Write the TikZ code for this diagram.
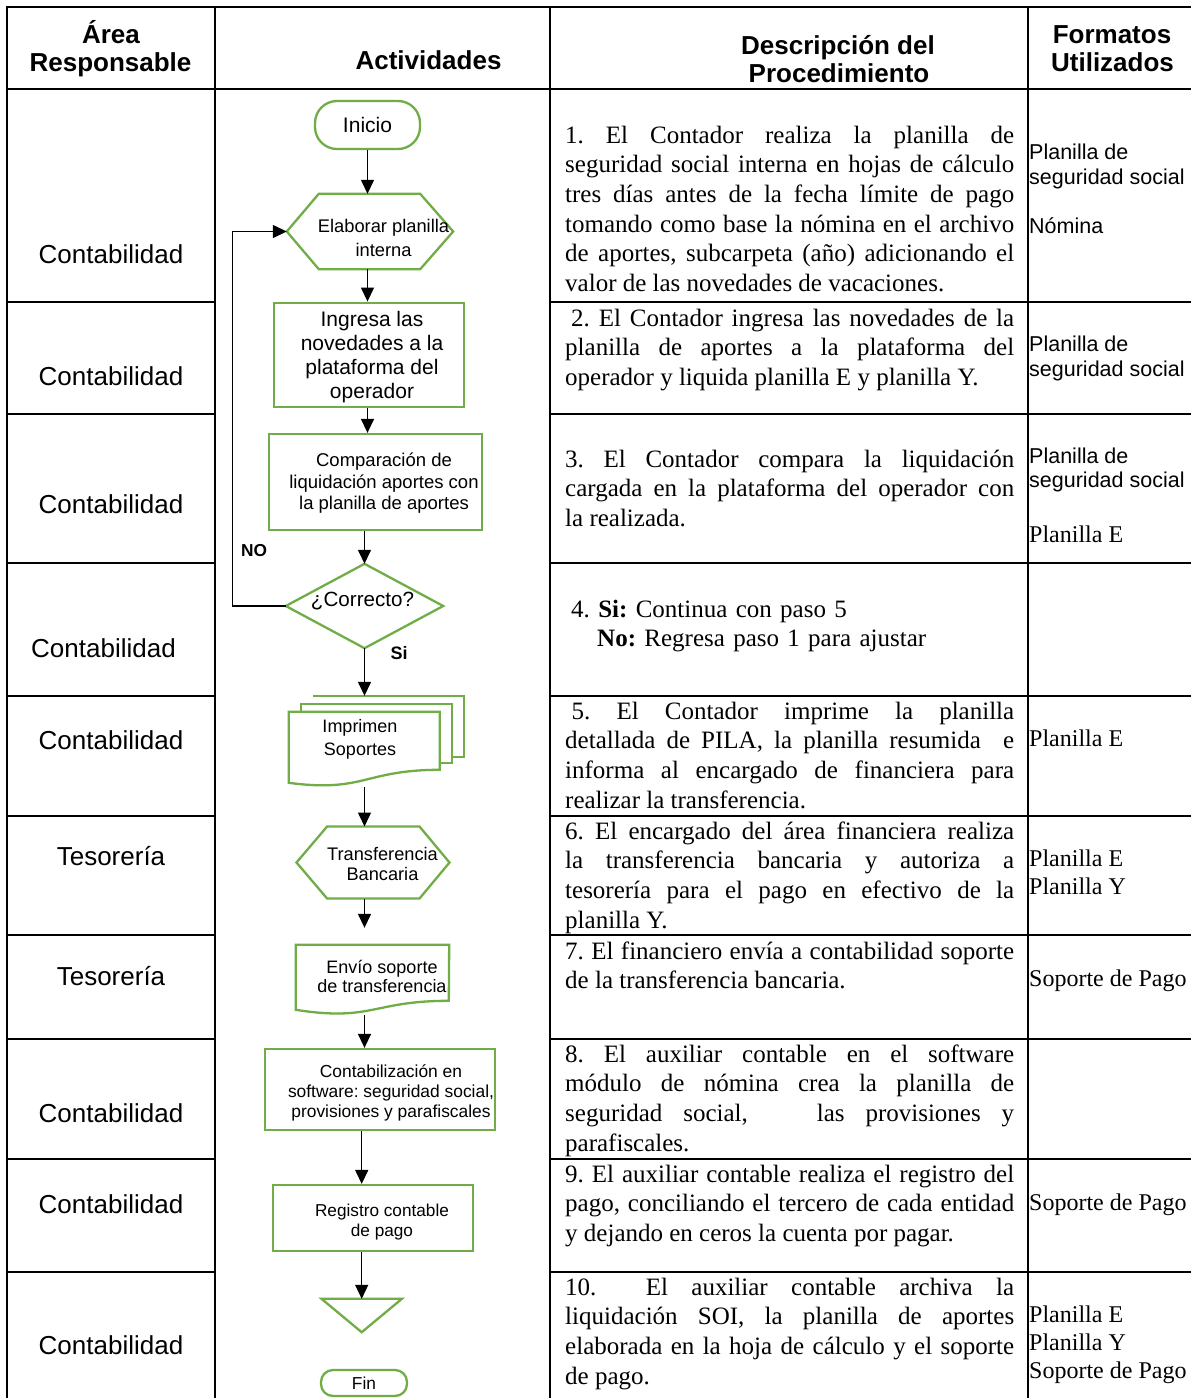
\documentclass[tikz,border=0pt]{standalone}
\usepackage{fontspec}
\setmainfont{Liberation Serif}
\newfontfamily\arialfont{Liberation Sans}
\usetikzlibrary{arrows.meta}
\definecolor{flowgreen}{RGB}{112,173,71}
\newcommand{\setfs}[2]{\fontsize{#1}{#2}\selectfont}
\hyphenpenalty=10000
\exhyphenpenalty=10000
\tolerance=9999
\hbadness=10000
\frenchspacing
\begin{document}
\begin{tikzpicture}[x=1pt,y=-1pt,
  tabline/.style={line width=2.2pt, black, line cap=rect},
  arr/.style={line width=1.4pt, -{Triangle[width=13pt,length=14pt]}},
  shp/.style={draw=flowgreen, line width=2.3pt},
  proc/.style={shp, rectangle, inner sep=0},
  bbox/.style={rectangle, inner sep=0, draw=none},
  area/.style={font=\arialfont\setfs{26}{30}, anchor=base, inner sep=0},
  hdr/.style={font=\arialfont\bfseries\setfs{26}{30}, anchor=base, inner sep=0},
  desc/.style={font=\setfs{25}{29.7}\frenchspacing, text width=449pt, align=justify, inner sep=0, anchor=north west},
  fmtsans/.style={font=\arialfont\setfs{21.5}{25}, anchor=base west, inner sep=0},
  fmtserif/.style={font=\setfs{24}{28}, anchor=base west, inner sep=0},
  ftext/.style={align=center, inner sep=0, anchor=north}]

\useasboundingbox (0,0) rectangle (1191,1398);
\fill[white] (0,0) rectangle (1191,1398);

% ---------- table grid ----------
\draw[tabline] (7,7) -- (1191,7);
\draw[tabline] (7,89) -- (1191,89);
\foreach \xx in {7,215,550,1028} \draw[tabline] (\xx,7) -- (\xx,1398);
\foreach \yy in {302,414,563,696,816,935,1039,1159,1272} {
  \draw[tabline] (7,\yy) -- (215,\yy);
  \draw[tabline] (550,\yy) -- (1191,\yy);
}

% ---------- headers ----------
\node[hdr] (h-area1) at (111,43) {Área};
\node[hdr] (h-area2) at (110.5,71.5) {Responsable};
\node[hdr] (h-act) at (428.5,69) {Actividades};
\node[hdr] (h-desc1) at (838,54) {Descripción del};
\node[hdr] (h-desc2) at (839,82.5) {Procedimiento};
\node[hdr] (h-fmt1) at (1112,43) {Formatos};
\node[hdr] (h-fmt2) at (1112.5,71.5) {Utilizados};

% ---------- responsible areas ----------
\node[area] (a1) at (111,263.4) {Contabilidad};
\node[area] (a2) at (111,385.4) {Contabilidad};
\node[area] (a3) at (111,513.4) {Contabilidad};
\node[area] (a4) at (103.5,657.4) {Contabilidad};
\node[area] (a5) at (111,749.4) {Contabilidad};
\node[area] (a6) at (111,865.4) {Tesorería};
\node[area] (a7) at (111,985.4) {Tesorería};
\node[area] (a8) at (111,1122.4) {Contabilidad};
\node[area] (a9) at (111,1213.4) {Contabilidad};
\node[area] (a10) at (111,1354.4) {Contabilidad};

% ---------- procedure descriptions ----------
\node[desc] (d1) at (565,122.2) {\strut 1. El Contador realiza la planilla de\linebreak seguridad social interna en hojas de cálculo\linebreak tres días antes de la fecha límite de pago\linebreak tomando como base la nómina en el archivo\linebreak de aportes, subcarpeta (año) adicionando el\linebreak valor de las novedades de vacaciones.};
\node[desc] (d2) at (565,305.2) {\strut\hspace*{6pt}2. El Contador ingresa las novedades de la\linebreak planilla de aportes a la plataforma del\linebreak operador y liquida planilla E y planilla Y.};
\node[desc] (d3) at (565,446.2) {\strut 3. El Contador compara la liquidación\linebreak cargada en la plataforma del operador con\linebreak la realizada.};
\node[desc, align=left] (d4) at (565,596.2) {\strut\hspace*{6pt}4. \textbf{Si:} Continua con paso 5\\\hspace*{32pt}\textbf{No:} Regresa paso 1 para ajustar};
\node[desc] (d5) at (565,698.2) {\strut\hspace*{6.5pt}5. El Contador imprime la planilla\linebreak detallada de PILA, la planilla resumida\ \ e\linebreak informa al encargado de financiera para\linebreak realizar la transferencia.};
\node[desc] (d6) at (565,818.2) {\strut 6. El encargado del área financiera realiza\linebreak la transferencia bancaria y autoriza a\linebreak tesorería para el pago en efectivo de la\linebreak planilla Y.};
\node[desc] (d7) at (565,938.2) {\strut 7. El financiero envía a contabilidad soporte\linebreak de la transferencia bancaria.};
\node[desc] (d8) at (565,1041.2) {\strut 8. El auxiliar contable en el software\linebreak módulo de nómina crea la planilla de\linebreak seguridad social,\hspace{48pt} las provisiones y\linebreak parafiscales.};
\node[desc] (d9) at (565,1161.2) {\strut 9. El auxiliar contable realiza el registro del\linebreak pago, conciliando el tercero de cada entidad\linebreak y dejando en ceros la cuenta por pagar.};
\node[desc] (d10) at (565,1274.2) {\strut 10.\hspace{26pt} El auxiliar contable archiva la\linebreak liquidación SOI, la planilla de aportes\linebreak elaborada en la hoja de cálculo y el soporte\linebreak de pago.};

% ---------- formats used ----------
\node[fmtsans] (f1a) at (1029,159.7) {Planilla de};
\node[fmtsans] (f1b) at (1029,184.7) {seguridad social};
\node[fmtsans] (f1c) at (1029,233.7) {Nómina};
\node[fmtsans] (f2a) at (1029,351.7) {Planilla de};
\node[fmtsans] (f2b) at (1029,376.7) {seguridad social};
\node[fmtsans] (f3a) at (1029,463.7) {Planilla de};
\node[fmtsans] (f3b) at (1029,487.7) {seguridad social};
\node[fmtserif] (f3c) at (1029,542.9) {Planilla E};
\node[fmtserif] (f5a) at (1029,746.9) {Planilla E};
\node[fmtserif] (f6a) at (1029,866.9) {Planilla E};
\node[fmtserif] (f6b) at (1029,894.9) {Planilla Y};
\node[fmtserif] (f7a) at (1029,986.9) {Soporte de Pago};
\node[fmtserif] (f9a) at (1029,1210.9) {Soporte de Pago};
\node[fmtserif] (f10a) at (1029,1322.9) {Planilla E};
\node[fmtserif] (f10b) at (1029,1350.9) {Planilla Y};
\node[fmtserif] (f10c) at (1029,1378.9) {Soporte de Pago};

% ---------- flowchart shapes ----------
\node[shp, rounded corners=22pt, minimum width=105pt, minimum height=48pt, inner sep=0,
      font=\arialfont\setfs{21}{24}] (inicio) at (367.5,125) {Inicio};

\node[bbox, minimum width=166pt, minimum height=75pt] (elab) at (370,231.5) {};
\draw[shp] (elab.west) -- ([xshift=32pt]elab.north west) -- ([xshift=-33pt]elab.north east)
  -- (elab.east) -- ([xshift=-33pt]elab.south east) -- ([xshift=32pt]elab.south west) -- cycle;

\node[proc, minimum width=190pt, minimum height=104pt] (ingresa) at (369,354.7) {};
\node[proc, minimum width=212.7pt, minimum height=96pt] (comp) at (375.4,482) {};

\node[bbox, minimum width=157pt, minimum height=84pt] (dec) at (364.5,606) {};
\draw[shp] (dec.west) -- (dec.north) -- (dec.east) -- (dec.south) -- cycle;

% stacked documents
\node[bbox, minimum width=175pt, minimum height=91pt] (imp) at (376.5,741.5) {};
\draw[shp] ([shift={(24,0)}]imp.north west) -- ([shift={(175,0)}]imp.north west)
  -- ([shift={(175,61)}]imp.north west) -- ([shift={(163,61)}]imp.north west);
\draw[shp] ([shift={(12,16)}]imp.north west) -- ([shift={(12,8)}]imp.north west)
  -- ([shift={(163,8)}]imp.north west) -- ([shift={(163,67)}]imp.north west)
  -- ([shift={(151,67)}]imp.north west);
\draw[shp, fill=white] ([shift={(0,16)}]imp.north west) -- ([shift={(151,16)}]imp.north west)
  -- ([shift={(151,74)}]imp.north west)
  .. controls ([shift={(75.5,74)}]imp.north west) and ([shift={(75.5,97)}]imp.north west)
  .. ([shift={(0,87)}]imp.north west) -- cycle;

\node[bbox, minimum width=152.6pt, minimum height=71.6pt] (trans) at (373,862.5) {};
\draw[shp] (trans.west) -- ([xshift=30.6pt]trans.north west) -- ([xshift=-30pt]trans.north east)
  -- (trans.east) -- ([xshift=-30pt]trans.south east) -- ([xshift=30.6pt]trans.south west) -- cycle;

\node[bbox, minimum width=153pt, minimum height=70pt] (envio) at (372.5,980) {};
\draw[shp] (envio.north west) -- (envio.north east)
  -- ([shift={(153,56)}]envio.north west)
  .. controls ([shift={(76.5,56)}]envio.north west) and ([shift={(76.5,77)}]envio.north west)
  .. ([shift={(0,65)}]envio.north west) -- cycle;

\node[proc, minimum width=229.4pt, minimum height=81pt] (cont) at (380,1089.5) {};
\node[proc, minimum width=200.6pt, minimum height=65.7pt] (reg) at (373,1217.9) {};

\node[bbox, minimum width=80pt, minimum height=33pt] (tri) at (361.7,1315.5) {};
\draw[shp] (tri.north west) -- (tri.north east) -- (tri.south) -- cycle;

\node[shp, rounded corners=12pt, minimum width=86pt, minimum height=26pt, inner sep=0,
      font=\arialfont\setfs{17.3}{20}] (fin) at (364,1383) {Fin};

% ---------- flowchart texts ----------
\node[ftext, font=\arialfont\setfs{18.3}{24}] (elab-t) at (383.5,215.8) {\strut Elaborar planilla\\interna};
\node[ftext, font=\arialfont\setfs{21}{24}] (ingresa-t) at (372,309.8) {\strut Ingresa las\\novedades a la\\plataforma del\\operador};
\node[ftext, font=\arialfont\setfs{18.5}{21.5}] (comp-t) at (384,451.6) {\strut Comparación de\\liquidación aportes con\\la planilla de aportes};
\node[anchor=base, inner sep=0, font=\arialfont\setfs{20.6}{24}] (dec-t) at (362.5,606.4) {¿Correcto?};
\node[ftext, font=\arialfont\setfs{18}{23}] (imp-t) at (360,716.4) {\strut Imprimen\\Soportes};
\node[ftext, font=\arialfont\setfs{18.2}{19.5}] (trans-t) at (382.5,847) {\strut Transferencia\\Bancaria};
\node[ftext, font=\arialfont\setfs{18}{19.5}] (envio-t) at (382,959.5) {\strut Envío soporte\\de transferencia};
\node[ftext, font=\arialfont\setfs{17.4}{20}] (cont-t) at (391,1063) {\strut Contabilización en\\software: seguridad social,\\provisiones y parafiscales};
\node[ftext, font=\arialfont\setfs{17.2}{20}] (reg-t) at (382,1202.2) {\strut Registro contable\\de pago};

\node[anchor=base, inner sep=0, font=\arialfont\bfseries\setfs{17.3}{20}] (lbl-no) at (254,556.2) {NO};
\node[anchor=base, inner sep=0, font=\arialfont\bfseries\setfs{18}{20}] (lbl-si) at (399,659.5) {Si};

% ---------- connectors ----------
\draw[arr] (inicio.south) -- (inicio.south |- elab.north);
\draw[arr] (elab.south -| inicio) -- (ingresa.north -| inicio);
\draw[arr] (ingresa.south -| inicio) -- (comp.north -| inicio);
\draw[arr] (comp.south -| dec) -- (dec.north);
\draw[arr] (dec.south) -- (dec.south |- imp.north);
\draw[arr] (imp.south -| dec) -- (trans.north -| dec);
\draw[arr, shorten >=17pt] (trans.south -| dec) -- (envio.north -| dec);
\draw[arr] (envio.south -| dec) -- (cont.north -| dec);
\draw[arr] (cont.south -| tri) -- (reg.north -| tri);
\draw[arr] (reg.south -| tri) -- (tri.north);
\coordinate (nobend) at (232.3,606);
\draw[arr] (dec.west) -- (nobend) |- (elab.west);

\end{tikzpicture}
\end{document}
